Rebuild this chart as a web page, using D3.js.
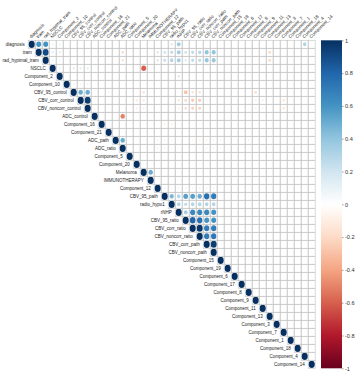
<!DOCTYPE html>
<html><head><meta charset="utf-8">
<script src="https://cdn.jsdelivr.net/npm/d3@7"></script>
<style>body{margin:0;background:#fff}svg{display:block}</style>
</head><body><svg id="c" width="355" height="372"></svg>
<script>
const variables = ["diagnosis","tram","rad_hyptmal_tram","NSCLC","Component_2","Component_10",
  "CBV_95_control","CBV_corr_control","CBV_noncorr_control","ADC_control","Component_16","Component_21",
  "ADC_path","ADC_ratio","Component_5","Component_20","Melanoma","IMMUNOTHERAPY","Component_12",
  "CBV_95_path","radio_hypo1","rNHP","CBV_95_ratio","CBV_corr_ratio","CBV_noncorr_ratio",
  "CBV_corr_path","CBV_noncorr_path","Component_15","Component_19","Component_6","Component_17",
  "Component_8","Component_9","Component_11","Component_13","Component_3","Component_7",
  "Component_1","Component_18","Component_4","Component_14"];

// off-diagonal correlations (row, column, r); all others ~0
const correlations = [
  ["diagnosis","tram",0.6],["diagnosis","rad_hyptmal_tram",0.6],["diagnosis","NSCLC",0.1],
  ["diagnosis","Component_2",0.1],["diagnosis","radio_hypo1",0.15],["diagnosis","rNHP",0.35],
  ["diagnosis","Component_4",0.3],
  ["tram","rad_hyptmal_tram",0.9],["tram","NSCLC",0.12],["tram","Component_2",0.12],
  ["tram","ADC_path",-0.05],["tram","ADC_ratio",-0.18],["tram","Component_12",0.15],
  ["tram","CBV_95_path",0.2],["tram","radio_hypo1",0.25],["tram","rNHP",0.35],
  ["tram","CBV_95_ratio",0.2],["tram","CBV_corr_ratio",0.25],["tram","CBV_noncorr_ratio",0.28],
  ["tram","CBV_corr_path",0.4],["tram","CBV_noncorr_path",0.4],["tram","Component_13",-0.2],
  ["rad_hyptmal_tram","NSCLC",0.08],["rad_hyptmal_tram","Component_2",0.08],
  ["rad_hyptmal_tram","ADC_ratio",-0.15],["rad_hyptmal_tram","Component_12",0.15],
  ["rad_hyptmal_tram","CBV_95_path",0.22],["rad_hyptmal_tram","radio_hypo1",0.3],
  ["rad_hyptmal_tram","rNHP",0.35],["rad_hyptmal_tram","CBV_95_ratio",0.15],
  ["rad_hyptmal_tram","CBV_corr_ratio",0.25],["rad_hyptmal_tram","CBV_noncorr_ratio",0.25],
  ["rad_hyptmal_tram","CBV_corr_path",0.38],["rad_hyptmal_tram","CBV_noncorr_path",0.38],
  ["rad_hyptmal_tram","Component_13",-0.2],
  ["NSCLC","Component_2",0.1],["NSCLC","CBV_95_control",0.12],["NSCLC","CBV_corr_control",0.12],
  ["NSCLC","CBV_noncorr_control",0.12],["NSCLC","Melanoma",-0.6],
  ["Component_2","rNHP",0.15],
  ["Component_10","CBV_95_control",0.08],["Component_10","CBV_corr_control",0.08],
  ["Component_10","CBV_noncorr_control",0.08],
  ["CBV_95_control","CBV_corr_control",0.5],["CBV_95_control","CBV_noncorr_control",0.5],
  ["CBV_95_control","Component_21",-0.08],["CBV_95_control","Melanoma",-0.15],
  ["CBV_95_control","CBV_95_ratio",-0.3],["CBV_95_control","CBV_corr_ratio",-0.15],
  ["CBV_95_control","CBV_noncorr_ratio",-0.15],["CBV_95_control","Component_9",-0.18],
  ["CBV_corr_control","CBV_noncorr_control",0.95],["CBV_corr_control","Component_20",-0.12],
  ["CBV_corr_control","Melanoma",-0.12],["CBV_corr_control","rNHP",-0.12],
  ["CBV_corr_control","CBV_95_ratio",-0.2],["CBV_corr_control","CBV_corr_ratio",-0.25],
  ["CBV_corr_control","CBV_noncorr_ratio",-0.25],["CBV_corr_control","Component_9",-0.1],
  ["CBV_corr_control","Component_11",-0.1],["CBV_corr_control","Component_7",-0.15],
  ["CBV_noncorr_control","Component_20",-0.1],["CBV_noncorr_control","Melanoma",-0.1],
  ["CBV_noncorr_control","rNHP",-0.1],["CBV_noncorr_control","CBV_95_ratio",-0.18],
  ["CBV_noncorr_control","CBV_corr_ratio",-0.22],["CBV_noncorr_control","CBV_noncorr_ratio",-0.22],
  ["CBV_noncorr_control","Component_9",-0.1],["CBV_noncorr_control","Component_11",-0.08],
  ["CBV_noncorr_control","Component_7",-0.15],
  ["ADC_control","ADC_ratio",-0.5],
  ["Component_16","CBV_95_path",-0.1],["Component_16","radio_hypo1",-0.1],
  ["ADC_path","ADC_ratio",0.5],["ADC_path","Component_12",-0.08],["ADC_path","CBV_95_path",-0.08],
  ["ADC_path","radio_hypo1",-0.08],["ADC_path","rNHP",-0.05],["ADC_path","CBV_corr_ratio",-0.08],
  ["ADC_path","CBV_noncorr_ratio",-0.08],["ADC_path","CBV_corr_path",-0.08],
  ["ADC_path","CBV_noncorr_path",-0.08],["ADC_path","Component_15",-0.06],
  ["ADC_path","Component_8",-0.08],
  ["ADC_ratio","Component_12",-0.08],["ADC_ratio","CBV_95_path",-0.08],["ADC_ratio","radio_hypo1",-0.06],
  ["ADC_ratio","rNHP",-0.05],["ADC_ratio","CBV_noncorr_ratio",-0.06],["ADC_ratio","CBV_corr_path",-0.08],
  ["ADC_ratio","CBV_noncorr_path",-0.08],["ADC_ratio","Component_15",-0.05],
  ["Melanoma","IMMUNOTHERAPY",0.5],
  ["Component_12","CBV_95_path",0.08],["Component_12","radio_hypo1",0.06],["Component_12","rNHP",0.08],
  ["Component_12","CBV_95_ratio",0.08],["Component_12","CBV_corr_ratio",0.08],
  ["Component_12","CBV_noncorr_ratio",0.08],["Component_12","CBV_corr_path",0.08],
  ["Component_12","CBV_noncorr_path",0.08],
  ["CBV_95_path","radio_hypo1",0.45],["CBV_95_path","rNHP",0.3],["CBV_95_path","CBV_95_ratio",0.55],
  ["CBV_95_path","CBV_corr_ratio",0.55],["CBV_95_path","CBV_noncorr_ratio",0.5],
  ["CBV_95_path","CBV_corr_path",0.75],["CBV_95_path","CBV_noncorr_path",0.7],
  ["CBV_95_path","Component_9",-0.08],
  ["radio_hypo1","rNHP",0.3],["radio_hypo1","CBV_95_ratio",0.25],["radio_hypo1","CBV_corr_ratio",0.3],
  ["radio_hypo1","CBV_noncorr_ratio",0.3],["radio_hypo1","CBV_corr_path",0.3],
  ["radio_hypo1","CBV_noncorr_path",0.3],["radio_hypo1","Component_3",-0.08],
  ["rNHP","CBV_95_ratio",0.35],["rNHP","CBV_corr_ratio",0.65],["rNHP","CBV_noncorr_ratio",0.65],
  ["rNHP","CBV_corr_path",0.65],["rNHP","CBV_noncorr_path",0.6],
  ["CBV_95_ratio","CBV_corr_ratio",0.8],["CBV_95_ratio","CBV_noncorr_ratio",0.75],
  ["CBV_95_ratio","CBV_corr_path",0.6],["CBV_95_ratio","CBV_noncorr_path",0.6],
  ["CBV_corr_ratio","CBV_noncorr_ratio",0.97],["CBV_corr_ratio","CBV_corr_path",0.7],
  ["CBV_corr_ratio","CBV_noncorr_path",0.7],
  ["CBV_noncorr_ratio","CBV_corr_path",0.7],["CBV_noncorr_ratio","CBV_noncorr_path",0.72],
  ["CBV_corr_path","CBV_noncorr_path",0.95]
];

const colorDomain = [-1,-0.8,-0.6,-0.4,-0.2,0,0.2,0.4,0.6,0.8,1];
const colorStops = ["#67001F","#B2182B","#D6604D","#F4A582","#FDDBC7","#FFFFFF",
                    "#D1E5F0","#92C5DE","#4393C3","#2166AC","#053061"];
const legendTicks = [1,0.8,0.6,0.4,0.2,0,-0.2,-0.4,-0.6,-0.8,-1];

const svg = d3.select("#c");
const n = variables.length;
const gridLeft = 28.2, gridTop = 40.3, cw = 7.0, ch = 8.0;
const x = d3.scaleBand().domain(variables).range([gridLeft, gridLeft + cw*n]);
const y = d3.scaleBand().domain(variables).range([gridTop, gridTop + ch*n]);
const color = d3.scaleLinear().domain(colorDomain).range(colorStops).interpolate(d3.interpolateRgb);
const font = "'Liberation Sans', Arial, sans-serif";

// full matrix: self-correlation plus listed pairs
const val = new Map();
variables.forEach(v => val.set(v + "|" + v, 1));
correlations.forEach(([a,b,r]) => val.set(a + "|" + b, r));

const cells = [];
variables.forEach((rv, i) => variables.forEach((cv, j) => {
  if (j >= i) cells.push({row: rv, col: cv, r: val.get(rv + "|" + cv) || 0});
}));

// circles
svg.append("g").selectAll("ellipse").data(cells.filter(d => d.r !== 0)).join("ellipse")
  .attr("cx", d => x(d.col) + x.bandwidth()/2)
  .attr("cy", d => y(d.row) + y.bandwidth()/2)
  .attr("rx", d => 0.45 * x.bandwidth() * Math.sqrt(Math.abs(d.r)))
  .attr("ry", d => 0.45 * y.bandwidth() * Math.sqrt(Math.abs(d.r)))
  .attr("fill", d => color(d.r));

// grid
svg.append("g").selectAll("rect").data(cells).join("rect")
  .attr("x", d => x(d.col)).attr("y", d => y(d.row))
  .attr("width", x.bandwidth()).attr("height", y.bandwidth())
  .attr("fill", "none").attr("stroke", "#c8c8c8").attr("stroke-width", 0.7);

// row labels
svg.append("g").selectAll("text").data(variables).join("text")
  .attr("x", d => x(d) - 3.5)
  .attr("y", d => y(d) + y.bandwidth()/2)
  .attr("text-anchor", "end").attr("dominant-baseline", "central")
  .attr("font-family", font).attr("font-size", 4.5).attr("fill", "#222")
  .text(d => d);

// column labels
svg.append("g").selectAll("text").data(variables).join("text")
  .attr("transform", d => `translate(${x(d) + x.bandwidth()/2 - 0.5},${gridTop - 1.8}) rotate(-45)`)
  .attr("text-anchor", "start")
  .attr("font-family", font).attr("font-size", 4.5).attr("fill", "#222")
  .text(d => d);

// color legend
const lgX = 321, lgW = 21;
const ly = d3.scaleLinear().domain([-1, 1]).range([gridTop + ch*n, gridTop]);
const defs = svg.append("defs");
const grad = defs.append("linearGradient").attr("id", "lg")
  .attr("x1", 0).attr("y1", 1).attr("x2", 0).attr("y2", 0);
grad.selectAll("stop").data(colorDomain).join("stop")
  .attr("offset", d => (d + 1) / 2)
  .attr("stop-color", d => color(d));
svg.append("rect").attr("x", lgX).attr("y", ly(1)).attr("width", lgW)
  .attr("height", ly(-1) - ly(1)).attr("fill", "url(#lg)");
const ax = svg.append("g").attr("transform", `translate(${lgX + lgW},0)`)
  .call(d3.axisRight(ly).tickValues(legendTicks).tickSize(1.5).tickPadding(1.5)
        .tickFormat(d => String(d)));
ax.select(".domain").remove();
ax.selectAll("line").attr("stroke", "#444").attr("stroke-width", 0.5);
ax.selectAll("text").attr("font-family", font).attr("font-size", 5.6).attr("fill", "#333");
</script></body></html>
